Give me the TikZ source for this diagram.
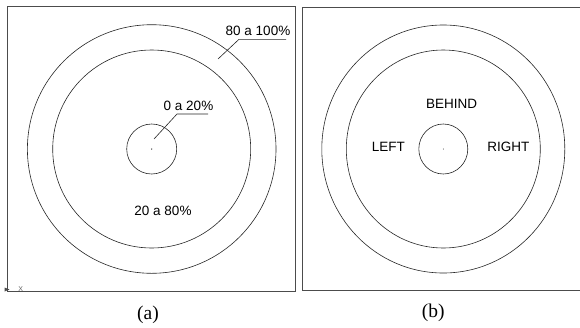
\documentclass[tikz,border=0pt]{standalone}
\usepackage{fontspec}
\setmainfont{Liberation Serif}
\newfontfamily\labelfont{Liberation Sans}
\usetikzlibrary{positioning, calc}

\begin{document}
\begin{tikzpicture}[x=1pt, y=-1pt,
    ring/.style={line width=0.6pt, draw=black!85},
    frame/.style={line width=1pt, draw=black!70},
    zone/.style={font=\labelfont\fontsize{13.5}{15}\selectfont, inner sep=1pt},
    caption/.style={font=\fontsize{19.5}{21}\selectfont}]
    \useasboundingbox (0,0) rectangle (580,327);

    % Panel (a): zones
    \draw[frame] (7.3,6) rectangle (295,291.5);
    \coordinate (ca) at (151.7,149);
    \draw[ring] (ca) circle[radius=124.3];
    \draw[ring] (ca) circle[radius=99];
    \draw[ring] (ca) circle[radius=25];
    \fill[black!85] (ca) circle[radius=0.7];

    % Labels with leaders
    \node[zone] (outer) at (258,30.5) {80 a 100\%};
    \coordinate (outerA) at (286,39.3);
    \coordinate (outerB) at (239,39.3);
    \coordinate (outerC) at (218,59);
    \draw[ring] (outerA) -- (outerB) -- (outerC);

    \node[zone] (inner) at (188.5,105.5) {0 a 20\%};
    \coordinate (innerA) at (208,114);
    \coordinate (innerB) at (177,114);
    \coordinate (innerC) at (154,139);
    \draw[ring] (innerA) -- (innerB) -- (innerC);

    \node[zone] (middle) at (163,211) {20 a 80\%};

    % Axis mark
    \fill[black!70] (4.5,287.5) -- (9.5,289.5) -- (4.5,291.5) -- cycle;
    \node[font=\labelfont\fontsize{7}{7}\selectfont, text=black!60, inner sep=0pt] (axisx) at (20.7,289) {X};

    \node[caption] (capa) at (148,314.5) {(a)};

    % Panel (b): directions
    \draw[frame] (302.7,7.5) rectangle (585,290);
    \coordinate (cb) at (443.3,149);
    \draw[ring] (cb) ellipse[x radius=121.5, y radius=124];
    \draw[ring] (cb) ellipse[x radius=97, y radius=99];
    \draw[ring] (cb) ellipse[x radius=24.5, y radius=25];
    \fill[black!85] (cb) circle[radius=0.5];

    \node[zone] (behind) at (451.7,104) {BEHIND};
    \node[zone] (left) at (388.3,146.7) {LEFT};
    \node[zone] (right) at (508.3,146.7) {RIGHT};

    \node[caption] (capb) at (433.3,313) {(b)};
\end{tikzpicture}
\end{document}
